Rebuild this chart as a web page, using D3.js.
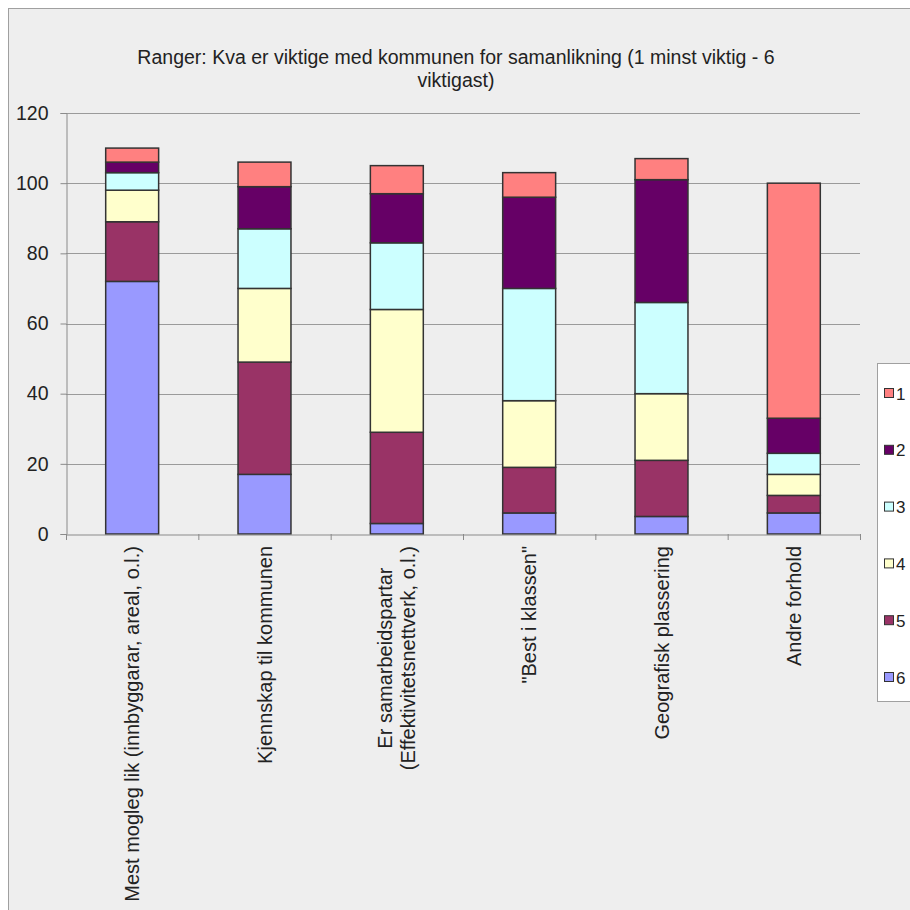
<!DOCTYPE html>
<html><head><meta charset="utf-8">
<script src="https://cdn.jsdelivr.net/npm/d3@7"></script>
<style>body{margin:0;background:#fff}svg{display:block}</style>
</head><body>
<script>
const categories = [
  ["Mest mogleg lik (innbyggarar, areal, o.l.)"],
  ["Kjennskap til kommunen"],
  ["Er samarbeidspartar", "(Effektivitetsnettverk, o.l.)"],
  ["\"Best i klassen\""],
  ["Geografisk plassering"],
  ["Andre forhold"]
];
const seriesNames = ["6", "5", "4", "3", "2", "1"]; // stacking order bottom->top
const s6 = [72, 17, 3, 6, 5, 6];
const s5 = [17, 32, 26, 13, 16, 5];
const s4 = [9, 21, 35, 19, 19, 6];
const s3 = [5, 17, 19, 32, 26, 6];
const s2 = [3, 12, 14, 26, 35, 10];
const s1 = [4, 7, 8, 7, 6, 67];
const yTicks = [0, 20, 40, 60, 80, 100, 120];
const legendNames = ["1", "2", "3", "4", "5", "6"];
const colors = {"1":"#FF8080","2":"#660066","3":"#CCFFFF","4":"#FFFFCC","5":"#993366","6":"#9999FF"};
const title = ["Ranger: Kva er viktige med kommunen for samanlikning (1 minst viktig - 6", "viktigast)"];

const values = {"6":s6,"5":s5,"4":s4,"3":s3,"2":s2,"1":s1};
const rows = categories.map((c, i) => {
  const r = {idx: i};
  seriesNames.forEach(k => r[k] = values[k][i]);
  return r;
});
const stack = d3.stack().keys(seriesNames)(rows);

const W = 910, H = 910;
const svg = d3.select("body").append("svg").attr("width", W).attr("height", H);
const font = "'Liberation Sans', Arial, sans-serif";

// chart background
svg.append("rect").attr("x", 8.5).attr("y", 8.5).attr("width", W).attr("height", H)
  .attr("fill", "#eeeeee").attr("stroke", "#a0a0a0").attr("stroke-width", 1);

const pL = 66, pR = 860, pT = 113, pB = 534;
const x = d3.scaleBand().domain(d3.range(categories.length)).range([pL, pR]).paddingInner(0.6).paddingOuter(0.3);
const xb = d3.scaleBand().domain(d3.range(categories.length)).range([pL, pR]);
const y = d3.scaleLinear().domain([0, 120]).range([pB, pT]);

// gridlines
svg.append("g").selectAll("line").data(yTicks.filter(t => t > 0)).join("line")
  .attr("x1", pL).attr("x2", pR)
  .attr("y1", d => Math.round(y(d)) + 0.5).attr("y2", d => Math.round(y(d)) + 0.5)
  .attr("stroke", "#9a9a9a").attr("stroke-width", 1);

// bars
svg.append("g").selectAll("g").data(stack).join("g")
  .attr("fill", d => colors[d.key])
  .selectAll("rect").data(d => d).join("rect")
  .attr("x", (d, i) => x(i))
  .attr("width", x.bandwidth())
  .attr("y", d => y(d[1]))
  .attr("height", d => y(d[0]) - y(d[1]))
  .attr("stroke", "#333333").attr("stroke-width", 1.5);

// y axis
const ya = svg.append("g").attr("transform", `translate(${pL + 0.5},0)`)
  .call(d3.axisLeft(y).tickValues(yTicks).tickSize(6).tickPadding(12));
ya.select(".domain").attr("stroke", "#8a8a8a");
ya.selectAll(".tick line").attr("stroke", "#8a8a8a");
ya.selectAll("text").attr("font-family", font).attr("font-size", 19.5).attr("fill", "#222");

// x axis
const xa = svg.append("g").attr("transform", `translate(0,${pB + 0.5})`)
  .call(d3.axisBottom(xb).tickSize(0).tickFormat(""));
xa.select(".domain").attr("stroke", "#8a8a8a");
// tick marks at category boundaries
svg.append("g").selectAll("line").data(d3.range(categories.length + 1)).join("line")
  .attr("x1", i => xb(0) + i * xb.step() + 0.5).attr("x2", i => xb(0) + i * xb.step() + 0.5)
  .attr("y1", pB).attr("y2", pB + 6)
  .attr("stroke", "#8a8a8a");

// x labels rotated
const lab = svg.append("g").selectAll("text").data(categories).join("text")
  .attr("font-family", font).attr("font-size", 20).attr("fill", "#222")
  .attr("text-anchor", "end")
  .attr("transform", (d, i) => `translate(${xb(i) + xb.bandwidth() / 2},546) rotate(-90)`);
lab.each(function(d) {
  const t = d3.select(this);
  const n = d.length;
  d.forEach((line, j) => {
    t.append("tspan").attr("x", 0)
      .attr("y", (j - (n - 1) / 2) * 23 + 7)
      .text(line);
  });
  if (n > 1) {
    const spans = t.selectAll("tspan").nodes();
    const widths = spans.map(s => s.getComputedTextLength());
    const maxW = d3.max(widths);
    spans.forEach((s, j) => d3.select(s).attr("x", -(maxW - widths[j]) / 2));
  }
});

// title
svg.append("g").selectAll("text").data(title).join("text")
  .attr("x", 456).attr("y", (d, i) => 64 + i * 23)
  .attr("text-anchor", "middle").attr("font-family", font).attr("font-size", 19.5)
  .attr("fill", "#222").text(d => d);

// legend
const lg = svg.append("g");
lg.append("rect").attr("x", 877.5).attr("y", 363.5).attr("width", 60).attr("height", 338)
  .attr("fill", "#ffffff").attr("stroke", "#a0a0a0");
const li = lg.selectAll("g").data(legendNames).join("g")
  .attr("transform", (d, i) => `translate(884,${393 + i * 56.8})`);
li.append("rect").attr("x", 0.5).attr("y", -4.5).attr("width", 9).attr("height", 9)
  .attr("fill", d => colors[d]).attr("stroke", "#333").attr("stroke-width", 1);
li.append("text").attr("x", 12).attr("y", 6.5).attr("font-family", font).attr("font-size", 17)
  .attr("fill", "#222").text(d => d);
</script>
</body></html>
